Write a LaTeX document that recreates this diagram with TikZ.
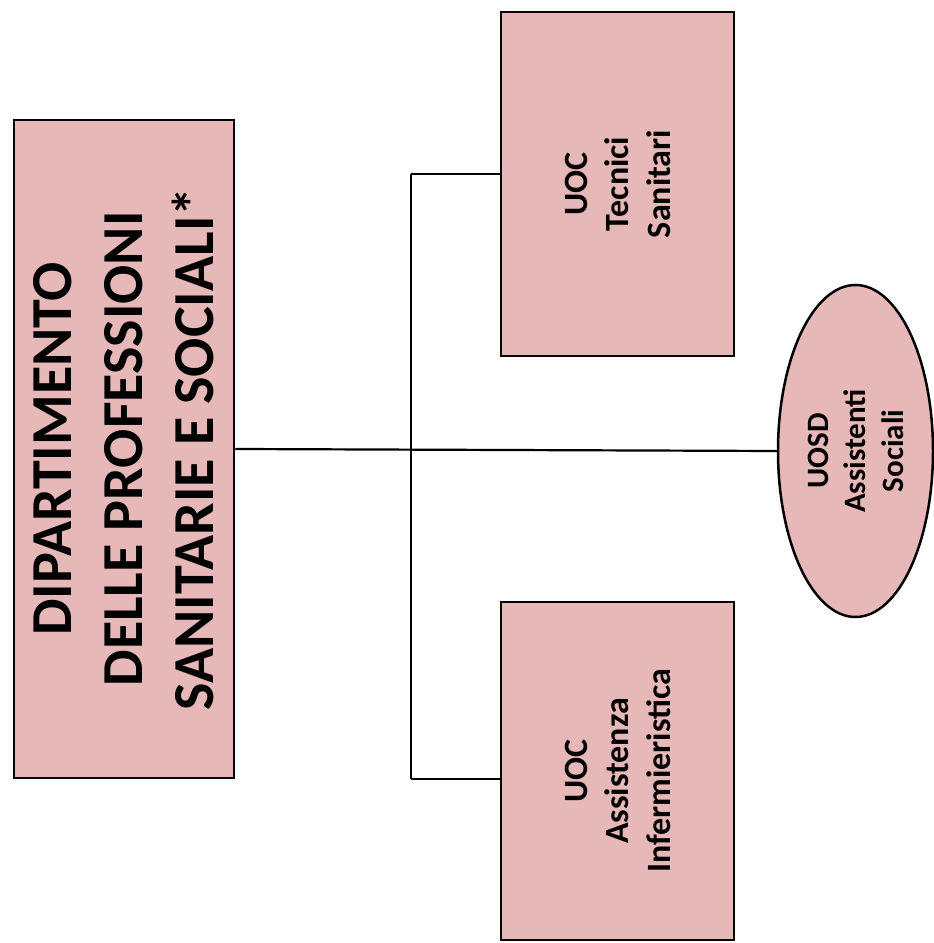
\documentclass[tikz,border=0pt]{standalone}
\usepackage{fontspec}
\setmainfont{Carlito}
\usetikzlibrary{shapes.geometric}
\definecolor{boxpink}{HTML}{E6B8B7}
\begin{document}
\begin{tikzpicture}[x=1pt,y=1pt,
  pinkbox/.style={draw=black,line width=2.5pt,fill=boxpink,rotate=90,align=center,inner sep=0pt},
  conn/.style={draw=black,line width=2.2pt}]
\useasboundingbox (0,0) rectangle (934,943);
\node[pinkbox,minimum width=658,minimum height=220,
  font=\fontsize{58}{71}\selectfont\bfseries] (dip) at (124,494)
  {DIPARTIMENTO\\DELLE PROFESSIONI\\SANITARIE E SOCIALI*};
\node[pinkbox,minimum width=344,minimum height=233,
  font=\fontsize{34}{41.5}\selectfont\bfseries] (tec) at (617.5,759)
  {UOC\\Tecnici\\Sanitari};
\node[pinkbox,minimum width=338,minimum height=233,
  font=\fontsize{34}{41.5}\selectfont\bfseries] (inf) at (617.5,172)
  {UOC\\Assistenza\\Infermieristica};
\node[pinkbox,ellipse,minimum width=332,minimum height=155,
  font=\fontsize{31}{37.5}\selectfont\bfseries] (uosd) at (855.5,492)
  {UOSD\\Assistenti\\Sociali};
\coordinate (jt) at (411,769);
\coordinate (jb) at (411,164);
\draw[conn] (dip.south) -- (uosd.north);
\draw[conn] (jt) -- (jb);
\draw[conn] (jt) -- (jt -| tec.north);
\draw[conn] (jb) -- (jb -| inf.north);
\end{tikzpicture}
\end{document}
